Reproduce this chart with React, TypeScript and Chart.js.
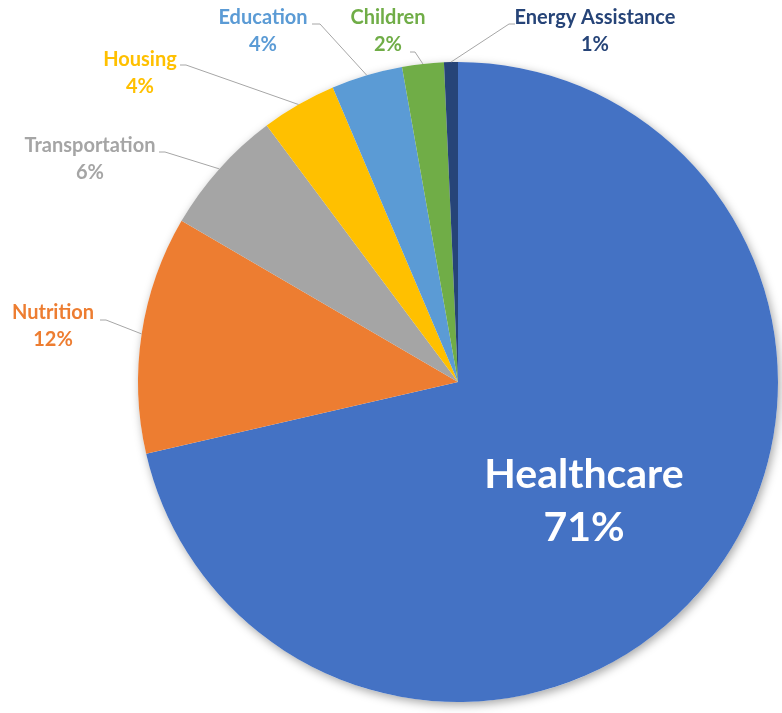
import React, { useEffect, useRef } from "react";
import { Chart, registerables } from "chart.js";

Chart.register(...registerables);

const categories = ["Healthcare", "Nutrition", "Transportation", "Housing", "Education", "Children", "Energy Assistance"];
const values = [71.4, 12.0, 6.4, 3.8, 3.6, 2.1, 0.7];
const percentLabels = ["71%", "12%", "6%", "4%", "4%", "2%", "1%"];
const colors = ["#4472C4", "#ED7D31", "#A5A5A5", "#FFC000", "#5B9BD5", "#70AD47", "#264478"];

// label layout: text centre x, first-line y, leader start point, elbow x
const labelLayout: Record<number, { x: number; y: number; lx: number; ly: number; ex: number }> = {
  1: { x: 53, y: 313, lx: 100, ly: 320, ex: 106 },
  2: { x: 90, y: 146, lx: 159, ly: 152, ex: 165 },
  3: { x: 140, y: 60, lx: 180, ly: 65, ex: 186 },
  4: { x: 263, y: 18, lx: 312, ly: 24, ex: 320 },
  5: { x: 388, y: 18, lx: 410, ly: 52, ex: 415 },
  6: { x: 595, y: 18, lx: 515, ly: 24, ex: 509 },
};

const shadowPlugin = {
  id: "pieShadow",
  beforeDatasetsDraw(chart: any) {
    const arc = chart.getDatasetMeta(0).data[0];
    if (!arc) return;
    const ctx = chart.ctx;
    ctx.save();
    ctx.shadowColor = "rgba(0,0,0,0.35)";
    ctx.shadowBlur = 10;
    ctx.shadowOffsetX = 2;
    ctx.shadowOffsetY = 3;
    ctx.fillStyle = "#ffffff";
    ctx.beginPath();
    ctx.arc(arc.x, arc.y, arc.outerRadius, 0, Math.PI * 2);
    ctx.fill();
    ctx.restore();
  },
};

const labelPlugin = {
  id: "pieLabels",
  afterDatasetsDraw(chart: any) {
    const ctx = chart.ctx;
    const meta = chart.getDatasetMeta(0);
    ctx.save();
    meta.data.forEach((arc: any, i: number) => {
      const mid = (arc.startAngle + arc.endAngle) / 2;
      if (i === 0) {
        ctx.fillStyle = "#ffffff";
        ctx.font = "bold 41px Lato";
        ctx.textAlign = "center";
        ctx.textBaseline = "middle";
        ctx.fillText(categories[i], 584, 475);
        ctx.fillText(percentLabels[i], 584, 528);
        return;
      }
      const L = labelLayout[i];
      const px = arc.x + Math.cos(mid) * arc.outerRadius;
      const py = arc.y + Math.sin(mid) * arc.outerRadius;
      ctx.strokeStyle = "#A6A6A6";
      ctx.lineWidth = 1;
      ctx.beginPath();
      ctx.moveTo(L.lx, L.ly);
      ctx.lineTo(L.ex, L.ly);
      ctx.lineTo(px, py);
      ctx.stroke();
      ctx.fillStyle = colors[i];
      ctx.font = "bold 20px Lato";
      ctx.textAlign = "center";
      ctx.textBaseline = "middle";
      ctx.fillText(categories[i], L.x, L.y);
      ctx.fillText(percentLabels[i], L.x, L.y + 27);
    });
    ctx.restore();
  },
};

export default function App() {
  const ref = useRef<HTMLCanvasElement | null>(null);
  useEffect(() => {
    document.body.style.margin = "0";
    const chart = new Chart(ref.current as HTMLCanvasElement, {
      type: "pie",
      data: {
        labels: categories,
        datasets: [
          {
            data: values,
            backgroundColor: colors,
            borderWidth: 0,
          },
        ],
      },
      options: {
        animation: false,
        responsive: false,
        layout: { padding: { left: 138, right: 4, top: 62, bottom: 11 } },
        plugins: {
          legend: { display: false },
          tooltip: { enabled: false },
        },
      },
      plugins: [shadowPlugin, labelPlugin],
    });
    return () => chart.destroy();
  }, []);
  return (
    <div style={{ width: 782, height: 713, background: "#ffffff" }}>
      <canvas ref={ref} width={782} height={713} style={{ display: "block" }} />
    </div>
  );
}
